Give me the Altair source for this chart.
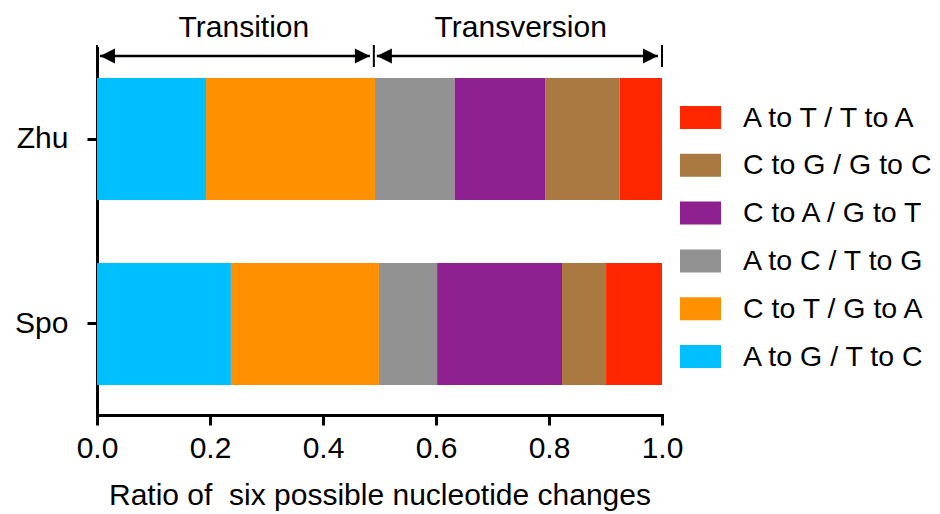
import altair as alt
import pandas as pd

# ---- data ----
samples = ["Zhu", "Spo"]
changes = ["A to G / T to C", "C to T / G to A", "A to C / T to G",
           "C to A / G to T", "C to G / G to C", "A to T / T to A"]
colors = ["#00BFFF", "#FF9100", "#929292", "#8F2090", "#AA7942", "#FF2600"]
zhu_ratio = [0.193, 0.299, 0.141, 0.161, 0.131, 0.075]
spo_ratio = [0.237, 0.262, 0.103, 0.221, 0.078, 0.099]

group_labels = ["Transition", "Transversion"]
group_start = [0.0, 0.49]
group_end = [0.49, 1.0]
group_label_x = [0.26, 0.75]

x_ticks = [0.0, 0.2, 0.4, 0.6, 0.8, 1.0]
x_title = "Ratio of \u00a0six possible nucleotide changes"

FONT = "Liberation Sans"

# ---- tables ----
rows = []
for s, vals in zip(samples, [zhu_ratio, spo_ratio]):
    for i, (c, v) in enumerate(zip(changes, vals)):
        rows.append({"sample": s, "change": c, "ratio": v, "idx": i})
bar_df = pd.DataFrame(rows)

grp_df = pd.DataFrame({"label": group_labels, "start": group_start,
                       "end": group_end, "lx": group_label_x})
sep_df = pd.DataFrame({"b": group_start + [group_end[-1]]})

legend_order = changes[::-1]
legend_colors = colors[::-1]

xscale = alt.Scale(domain=[0, 1], nice=False)

bars = alt.Chart(bar_df).mark_bar(strokeWidth=0).encode(
    x=alt.X("ratio:Q", stack="zero", scale=xscale,
            axis=alt.Axis(values=x_ticks, format=".1f", title=x_title,
                          labelFlush=False, labelPadding=8, titlePadding=17)),
    y=alt.Y("sample:N", sort=samples,
            scale=alt.Scale(paddingInner=0.34, paddingOuter=0.162),
            axis=alt.Axis(title=None, labelPadding=19)),
    color=alt.Color("change:N",
                    scale=alt.Scale(domain=legend_order, range=legend_colors),
                    legend=alt.Legend(title=None, orient="none",
                                      legendX=583, legendY=49,
                                      symbolType="M-1,-0.56L1,-0.56L1,0.56L-1,0.56Z",
                                      symbolSize=1681, symbolStrokeWidth=0,
                                      symbolOpacity=1,
                                      labelFontSize=28.5, labelFont=FONT,
                                      labelColor="black", labelOffset=22,
                                      labelLimit=400, rowPadding=12.8,
                                      padding=0)),
    order=alt.Order("idx:Q", sort="ascending"),
)

lines = alt.Chart(grp_df).mark_rule(color="black", strokeWidth=2.5,
                                    xOffset=3, x2Offset=-4).encode(
    x=alt.X("start:Q", scale=xscale), x2="end:Q", y=alt.value(8))

head_l = alt.Chart(grp_df).mark_point(shape="M0,0L2,-1L2,1Z", filled=True,
                                      size=225, color="black", opacity=1,
                                      strokeWidth=0, xOffset=3).encode(
    x=alt.X("start:Q", scale=xscale), y=alt.value(8))

head_r = alt.Chart(grp_df).mark_point(shape="M0,0L-2,-1L-2,1Z", filled=True,
                                      size=225, color="black", opacity=1,
                                      strokeWidth=0, xOffset=-4).encode(
    x=alt.X("end:Q", scale=xscale), y=alt.value(8))

seps = alt.Chart(sep_df).mark_rule(color="black", strokeWidth=2).encode(
    x=alt.X("b:Q", scale=xscale), y=alt.value(-3), y2=alt.value(19))

texts = alt.Chart(grp_df).mark_text(fontSize=30, font=FONT, color="black",
                                    baseline="alphabetic", align="center").encode(
    x=alt.X("lx:Q", scale=xscale), y=alt.value(-11), text="label:N")

chart = alt.layer(bars, lines, head_l, head_r, seps, texts).properties(
    width=565, height=367,
    autosize=alt.AutoSizeParams(type="none"),
    padding={"left": 89, "top": 40, "right": 269, "bottom": 98},
).configure_view(stroke="transparent").configure_axis(
    grid=False, domainColor="black", domainWidth=3, tickColor="black",
    tickWidth=3, tickSize=10, labelFont=FONT, labelFontSize=30,
    labelColor="black", titleFont=FONT, titleFontSize=30,
    titleFontWeight="normal", titleColor="black", domainCap="square",
)

chart.save("out.html", embed_options={"renderer": "svg", "actions": False})
